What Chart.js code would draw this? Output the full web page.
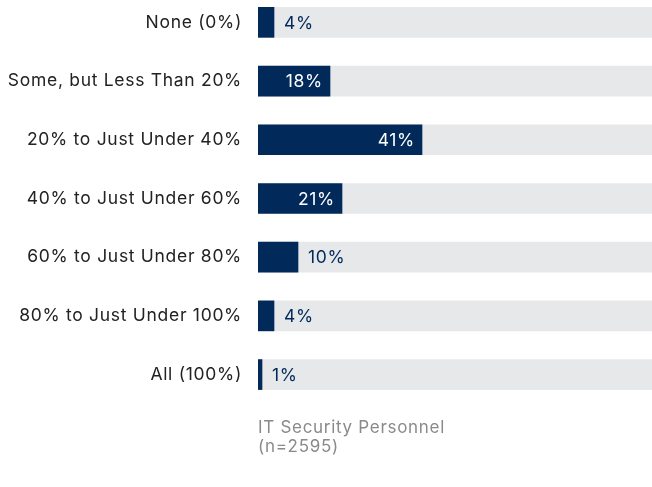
<!DOCTYPE html>
<html>
<head>
<meta charset="utf-8">
<script src="https://cdn.jsdelivr.net/npm/chart.js@4"></script>
<style>
  html, body { margin: 0; padding: 0; background: #ffffff; overflow: hidden; }
  #wrap { position: absolute; left: 0; top: -7px; width: 652px; height: 494px; }
</style>
</head>
<body>
<div id="wrap"><canvas id="c"></canvas></div>
<script>
const categories = [
  'None (0%)',
  'Some, but Less Than 20%',
  '20% to Just Under 40%',
  '40% to Just Under 60%',
  '60% to Just Under 80%',
  '80% to Just Under 100%',
  'All (100%)'
];
const values = [4, 18, 41, 21, 10, 4, 1];
const trackValues = [100, 100, 100, 100, 100, 100, 100];
const footerLines = ['IT Security Personnel', '(n=2595)'];

const NAVY = '#012a5b';
const TRACK = '#e7e8ea';
const FONT = "Inter, sans-serif";
const SPACING = '0.7px';

const spacingPlugin = {
  id: 'spacing',
  beforeInit(chart) { chart.ctx.letterSpacing = SPACING; },
  beforeUpdate(chart) { chart.ctx.letterSpacing = SPACING; },
  beforeLayout(chart) { chart.ctx.letterSpacing = SPACING; },
  beforeDraw(chart) { chart.ctx.letterSpacing = SPACING; }
};

const valueLabels = {
  id: 'valueLabels',
  afterDatasetsDraw(chart) {
    const ctx = chart.ctx;
    const meta = chart.getDatasetMeta(0);
    ctx.save();
    ctx.letterSpacing = SPACING;
    ctx.font = '17.5px ' + FONT;
    ctx.textBaseline = 'middle';
    meta.data.forEach((bar, i) => {
      const v = values[i];
      const txt = v + '%';
      if (v >= 15) {
        ctx.fillStyle = '#ffffff';
        ctx.textAlign = 'right';
        ctx.fillText(txt, bar.x - 7, bar.y + 1);
      } else {
        ctx.fillStyle = NAVY;
        ctx.textAlign = 'left';
        ctx.fillText(txt, bar.x + 10, bar.y + 1);
      }
    });
    ctx.restore();
  }
};

new Chart(document.getElementById('c'), {
  type: 'bar',
  data: {
    labels: categories,
    datasets: [
      { data: values, backgroundColor: NAVY, barThickness: 30, grouped: false, order: 0 },
      { data: trackValues, backgroundColor: TRACK, barThickness: 30, grouped: false, order: 1 }
    ]
  },
  options: {
    indexAxis: 'y',
    responsive: true,
    maintainAspectRatio: false,
    animation: false,
    layout: { padding: 0 },
    plugins: {
      legend: { display: false },
      tooltip: { enabled: false },
      title: {
        display: true,
        position: 'bottom',
        align: 'start',
        fullSize: false,
        text: footerLines,
        color: '#8a8a8a',
        font: { family: FONT, size: 17, weight: 'normal', lineHeight: 1.12 },
        padding: { top: 14.5, bottom: 30.5 }
      }
    },
    scales: {
      x: { display: false, min: 0, max: 98.5 },
      y: {
        grid: { display: false, drawTicks: false },
        border: { display: false },
        ticks: { color: '#222222', padding: 16, font: { family: FONT, size: 17.5 } },
        afterFit(s) { s.width = 258; s.paddingTop = 0; s.paddingBottom = 0; }
      }
    }
  },
  plugins: [spacingPlugin, valueLabels]
});
</script>
</body>
</html>
